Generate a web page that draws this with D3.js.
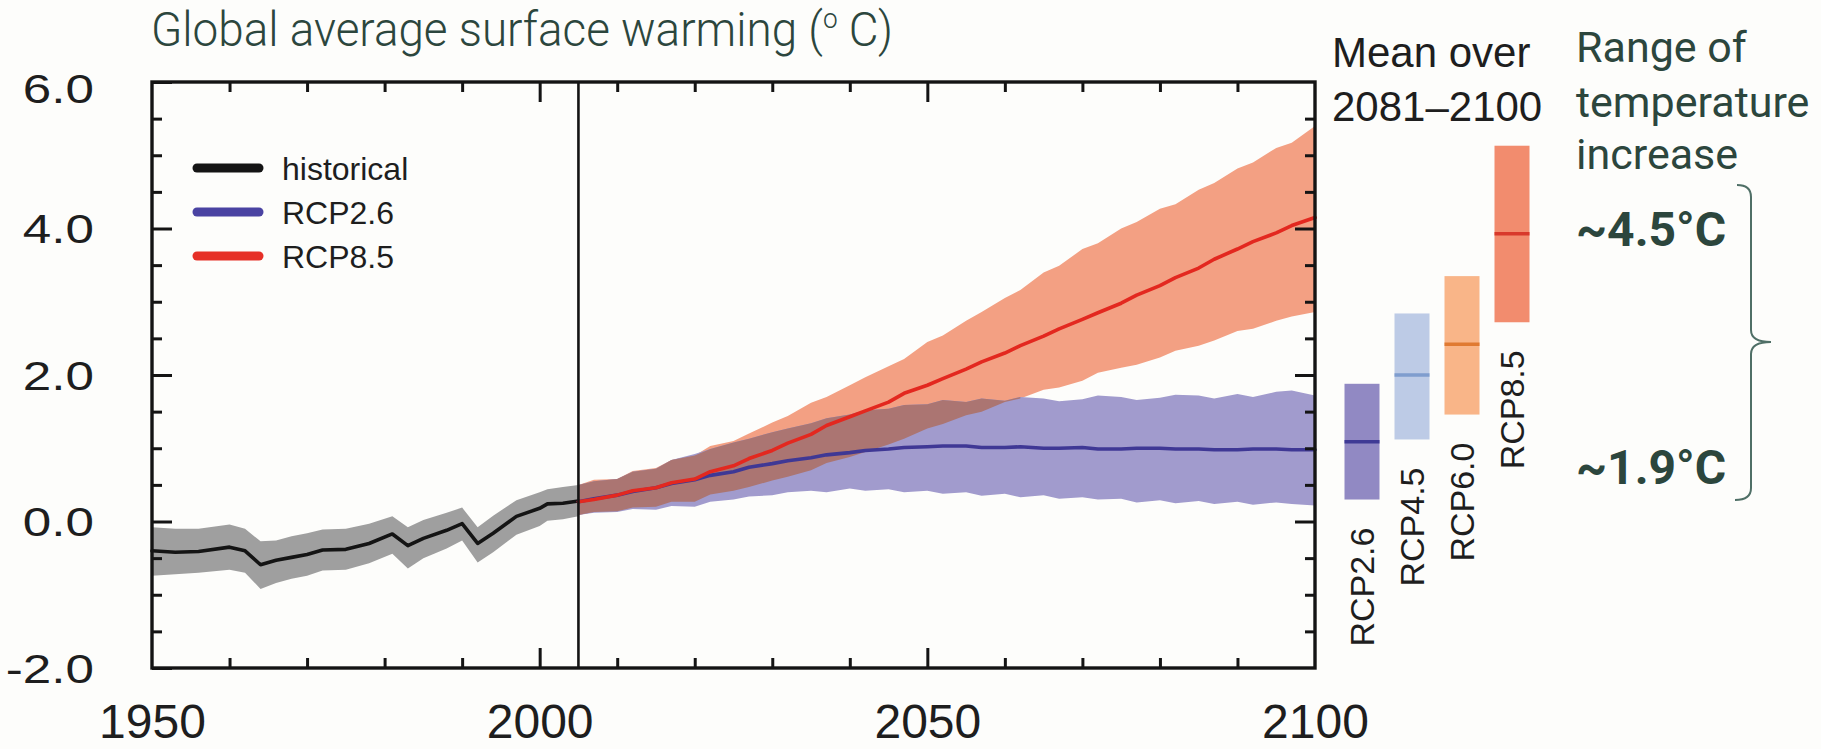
<!DOCTYPE html>
<html>
<head>
<meta charset="utf-8">
<script src="https://cdn.jsdelivr.net/npm/d3@7"></script>
<style>
  html, body { margin: 0; padding: 0; background: #fdfdfb; }
  svg { display: block; }
</style>
</head>
<body>
<script>
// ---------------- data ----------------
const histYears = [1950, 1953, 1956, 1960, 1962, 1964, 1966, 1968, 1970, 1972, 1975, 1978, 1981, 1983, 1985, 1988, 1990, 1992, 1994, 1997, 2000, 2001, 2003, 2005];
const histMean  = [-0.40, -0.42, -0.41, -0.35, -0.40, -0.59, -0.53, -0.49, -0.45, -0.39, -0.38, -0.30, -0.17, -0.33, -0.23, -0.12, -0.03, -0.30, -0.16, 0.07, 0.18, 0.24, 0.25, 0.28];
const histLow   = [-0.74, -0.72, -0.70, -0.66, -0.70, -0.92, -0.84, -0.78, -0.74, -0.67, -0.66, -0.57, -0.44, -0.64, -0.50, -0.37, -0.26, -0.56, -0.42, -0.18, -0.06, 0.01, 0.03, 0.07];
const histHigh  = [-0.08, -0.10, -0.10, -0.04, -0.10, -0.27, -0.26, -0.20, -0.16, -0.11, -0.10, -0.03, 0.07, -0.08, 0.02, 0.12, 0.19, -0.08, 0.08, 0.29, 0.40, 0.44, 0.47, 0.50];

const rcpYears  = [2005, 2007, 2010, 2012, 2015, 2017, 2020, 2022, 2025, 2027, 2030, 2032, 2035, 2037, 2040, 2042, 2045, 2047, 2050, 2052,
                   2055, 2057, 2060, 2062, 2065, 2067, 2070, 2072, 2075, 2077, 2080, 2082, 2085, 2087, 2090, 2092, 2095, 2097, 2100];
const rcp85Mean = [0.27, 0.30, 0.36, 0.42, 0.46, 0.53, 0.58, 0.68, 0.76, 0.86, 0.97, 1.07, 1.19, 1.31, 1.43, 1.51, 1.63, 1.75, 1.86, 1.95,
                   2.08, 2.18, 2.30, 2.40, 2.53, 2.63, 2.76, 2.85, 2.98, 3.09, 3.22, 3.33, 3.46, 3.58, 3.72, 3.82, 3.94, 4.04, 4.15];
const rcp85High = [0.50, 0.57, 0.58, 0.69, 0.73, 0.84, 0.90, 1.03, 1.10, 1.20, 1.35, 1.44, 1.62, 1.70, 1.86, 1.97, 2.12, 2.22, 2.45, 2.54,
                   2.74, 2.86, 3.05, 3.16, 3.40, 3.49, 3.72, 3.80, 4.00, 4.09, 4.27, 4.33, 4.53, 4.62, 4.82, 4.90, 5.10, 5.17, 5.40];
const rcp85Low  = [0.09, 0.13, 0.14, 0.19, 0.20, 0.27, 0.27, 0.37, 0.42, 0.47, 0.56, 0.61, 0.70, 0.80, 0.88, 0.95, 1.05, 1.13, 1.27, 1.33,
                   1.45, 1.50, 1.63, 1.68, 1.80, 1.83, 1.92, 2.03, 2.10, 2.14, 2.24, 2.33, 2.40, 2.47, 2.60, 2.63, 2.74, 2.80, 2.86];
const rcp26Mean = [0.27, 0.31, 0.36, 0.41, 0.46, 0.52, 0.57, 0.63, 0.68, 0.74, 0.79, 0.83, 0.87, 0.91, 0.94, 0.97, 0.99, 1.01, 1.02, 1.03,
                   1.03, 1.01, 1.01, 1.02, 1.00, 1.00, 1.01, 0.99, 0.99, 1.00, 1.00, 0.99, 0.99, 0.98, 0.98, 0.99, 0.99, 0.98, 0.98];
const rcp26High = [0.50, 0.55, 0.58, 0.68, 0.72, 0.84, 0.92, 0.99, 1.08, 1.13, 1.22, 1.27, 1.34, 1.41, 1.46, 1.52, 1.54, 1.59, 1.60, 1.66,
                   1.63, 1.68, 1.65, 1.70, 1.68, 1.64, 1.67, 1.72, 1.70, 1.66, 1.69, 1.73, 1.72, 1.68, 1.74, 1.70, 1.77, 1.79, 1.72];
const rcp26Low  = [0.09, 0.12, 0.13, 0.17, 0.16, 0.21, 0.20, 0.27, 0.30, 0.34, 0.36, 0.40, 0.42, 0.40, 0.45, 0.42, 0.44, 0.40, 0.42, 0.38,
                   0.40, 0.35, 0.38, 0.33, 0.36, 0.31, 0.33, 0.30, 0.31, 0.26, 0.29, 0.25, 0.28, 0.24, 0.27, 0.23, 0.26, 0.24, 0.22];

const barNames = ["RCP2.6", "RCP4.5", "RCP6.0", "RCP8.5"];
const barLow   = [0.30, 1.12, 1.46, 2.72];
const barMean  = [1.09, 2.00, 2.42, 3.93];
const barHigh  = [1.88, 2.84, 3.35, 5.13];

const yMajorTicks  = [-2, 0, 2, 4, 6];
const yTickLabels  = ["-2.0", "0.0", "2.0", "4.0", "6.0"];
const yMinorTicks  = [-1.5, -1, -0.5, 0.5, 1, 1.5, 2.5, 3, 3.5, 4.5, 5, 5.5];
const xMajorTicks  = [1950, 2000, 2050, 2100];
const xTickLabels  = ["1950", "2000", "2050", "2100"];
const xMinorTicks  = [1960, 1970, 1980, 1990, 2010, 2020, 2030, 2040, 2060, 2070, 2080, 2090];
const splitYear    = 2005;

const legendNames  = ["historical", "RCP2.6", "RCP8.5"];

// ---------------- styles ----------------
const C = {
  ink: "#141414",
  greyBand: "#9f9f9f",
  orangeBand: "#f3a083",
  purpleBand: "#a19bcd",
  overlap: "#ab7572",
  red: "#e3281f",
  blue: "#3f3895",
  note: "#2c463d"
};
const barFill = ["#9189c3", "#bdcbe6", "#f9b588", "#f28c6e"];
const barLine = ["#3f3a95", "#7f9dce", "#e07a32", "#d8392b"];
const legendColors = [C.ink, "#4a43a2", "#e63027"];
const helv = "'Liberation Sans', Arial, Helvetica, sans-serif";
const robo = "Roboto, 'Noto Sans', sans-serif";

// ---------------- layout ----------------
const W = 1821, H = 749;
const svg = d3.select("body").append("svg").attr("width", W).attr("height", H);

const x = d3.scaleLinear().domain([1950, 2100]).range([152, 1315]);
const y = d3.scaleLinear().domain([-2, 6]).range([668, 82]);

const hist = histYears.map((d, i) => ({yr: d, m: histMean[i], lo: histLow[i], hi: histHigh[i]}));
const rcp = rcpYears.map((d, i) => ({
  yr: d,
  m85: rcp85Mean[i], lo85: rcp85Low[i], hi85: rcp85High[i],
  m26: rcp26Mean[i], lo26: rcp26Low[i], hi26: rcp26High[i]
}));

const plot = svg.append("g");

// bands
plot.append("path").datum(hist)
  .attr("fill", C.greyBand)
  .attr("d", d3.area().x(d => x(d.yr)).y0(d => y(d.lo)).y1(d => y(d.hi)));

plot.append("path").datum(rcp)
  .attr("fill", C.orangeBand)
  .attr("d", d3.area().x(d => x(d.yr)).y0(d => y(d.lo85)).y1(d => y(d.hi85)));

plot.append("path").datum(rcp)
  .attr("fill", C.purpleBand)
  .attr("d", d3.area().x(d => x(d.yr)).y0(d => y(d.lo26)).y1(d => y(d.hi26)));

plot.append("path").datum(rcp)
  .attr("fill", C.overlap)
  .attr("d", d3.area()
    .defined(d => Math.max(d.lo26, d.lo85) < Math.min(d.hi26, d.hi85))
    .x(d => x(d.yr))
    .y0(d => y(Math.max(d.lo26, d.lo85)))
    .y1(d => y(Math.min(d.hi26, d.hi85))));

// mean lines
const lineStyle = (sel, col) => sel.attr("fill", "none").attr("stroke", col)
  .attr("stroke-width", 3.6).attr("stroke-linejoin", "round").attr("stroke-linecap", "round");

plot.append("path").datum(hist).call(lineStyle, C.ink)
  .attr("d", d3.line().x(d => x(d.yr)).y(d => y(d.m)));
plot.append("path").datum(rcp).call(lineStyle, C.blue)
  .attr("d", d3.line().x(d => x(d.yr)).y(d => y(d.m26)));
plot.append("path").datum(rcp).call(lineStyle, C.red)
  .attr("d", d3.line().x(d => x(d.yr)).y(d => y(d.m85)));

// 2005 split line
svg.append("line")
  .attr("x1", x(splitYear)).attr("x2", x(splitYear))
  .attr("y1", y(6)).attr("y2", y(-2))
  .attr("stroke", C.ink).attr("stroke-width", 2.6);

// ---------------- axes ----------------
function styleAxis(g) {
  g.select(".domain").remove();
  g.selectAll(".tick line").attr("stroke", C.ink).attr("stroke-width", 3);
}
const minorLen = -10, majorLen = -20;

// left
svg.append("g").attr("transform", `translate(${x(1950)},0)`)
  .call(d3.axisLeft(y).tickValues(yMinorTicks).tickSize(minorLen).tickFormat("")).call(styleAxis);
const leftMajor = svg.append("g").attr("transform", `translate(${x(1950)},0)`)
  .call(d3.axisLeft(y).tickValues(yMajorTicks).tickSize(majorLen)
    .tickFormat((d, i) => yTickLabels[i]))
  .call(styleAxis);
leftMajor.selectAll(".tick text")
  .attr("font-family", helv).attr("font-size", 40).attr("fill", "#1e1e1e")
  .attr("text-anchor", "end")
  .attr("x", -58 / 1.28)
  .attr("dy", d => d === 6 ? "0.52em" : "0.36em")
  .attr("transform", "scale(1.28,1)");

// right
svg.append("g").attr("transform", `translate(${x(2100)},0)`)
  .call(d3.axisRight(y).tickValues(yMinorTicks).tickSize(minorLen).tickFormat("")).call(styleAxis);
svg.append("g").attr("transform", `translate(${x(2100)},0)`)
  .call(d3.axisRight(y).tickValues(yMajorTicks.slice(1, -1)).tickSize(majorLen).tickFormat("")).call(styleAxis);

// top
svg.append("g").attr("transform", `translate(0,${y(6)})`)
  .call(d3.axisTop(x).tickValues(xMinorTicks).tickSize(minorLen).tickFormat("")).call(styleAxis);
svg.append("g").attr("transform", `translate(0,${y(6)})`)
  .call(d3.axisTop(x).tickValues(xMajorTicks.slice(1, -1)).tickSize(majorLen).tickFormat("")).call(styleAxis);

// bottom
svg.append("g").attr("transform", `translate(0,${y(-2)})`)
  .call(d3.axisBottom(x).tickValues(xMinorTicks).tickSize(minorLen).tickFormat("")).call(styleAxis);
const bottomMajor = svg.append("g").attr("transform", `translate(0,${y(-2)})`)
  .call(d3.axisBottom(x).tickValues(xMajorTicks).tickSize(majorLen)
    .tickFormat((d, i) => xTickLabels[i]))
  .call(styleAxis);
bottomMajor.selectAll(".tick line").filter(d => d === 1950 || d === 2100).remove();
bottomMajor.selectAll(".tick text")
  .attr("font-family", helv).attr("font-size", 48).attr("fill", "#1e1e1e")
  .attr("y", 70).attr("dy", 0)
  .attr("x", 0);

// frame
svg.append("rect")
  .attr("x", x(1950)).attr("y", y(6))
  .attr("width", x(2100) - x(1950)).attr("height", y(-2) - y(6))
  .attr("fill", "none").attr("stroke", C.ink).attr("stroke-width", 3.4);

// ---------------- legend ----------------
const lg = svg.append("g");
legendNames.forEach((name, i) => {
  const by = 180 + i * 44;
  lg.append("line").attr("x1", 197).attr("x2", 259)
    .attr("y1", by - 12).attr("y2", by - 12)
    .attr("stroke", legendColors[i]).attr("stroke-width", 9).attr("stroke-linecap", "round");
  lg.append("text").attr("x", 282).attr("y", by)
    .attr("font-family", helv).attr("font-size", 32).attr("fill", "#1e1e1e")
    .text(name);
});

// ---------------- 2081-2100 bars ----------------
const bx = d3.scaleBand().domain(barNames).range([1337, 1537]).paddingInner(0.3).paddingOuter(0.15);
const bars = svg.append("g");
barNames.forEach((n, i) => {
  bars.append("rect")
    .attr("x", bx(n)).attr("width", bx.bandwidth())
    .attr("y", y(barHigh[i])).attr("height", y(barLow[i]) - y(barHigh[i]))
    .attr("fill", barFill[i]);
  bars.append("line")
    .attr("x1", bx(n)).attr("x2", bx(n) + bx.bandwidth())
    .attr("y1", y(barMean[i])).attr("y2", y(barMean[i]))
    .attr("stroke", barLine[i]).attr("stroke-width", 3.5);
  const tx = bx(n) + bx.bandwidth() / 2 + 12;
  const ty = y(barLow[i]) + 28;
  bars.append("text")
    .attr("transform", `translate(${tx},${ty}) rotate(-90)`)
    .attr("text-anchor", "end")
    .attr("font-family", helv).attr("font-size", 34).attr("fill", "#1e1e1e")
    .text(n);
});

svg.append("text").attr("x", 1332).attr("y", 67)
  .attr("font-family", helv).attr("font-size", 42).attr("fill", "#1e1e1e")
  .text("Mean over");
svg.append("text").attr("x", 1332).attr("y", 121)
  .attr("font-family", helv).attr("font-size", 42).attr("fill", "#1e1e1e")
  .text("2081\u20132100");

// ---------------- annotations ----------------
const title = svg.append("text").attr("x", 151 / 0.935).attr("y", 46)
  .attr("transform", "scale(0.935,1)")
  .attr("font-family", robo).attr("font-weight", 300).attr("font-size", 49).attr("fill", C.note);
title.append("tspan").text("Global average surface warming (");
title.append("tspan").attr("font-size", 28).attr("dy", -18).text("o");
title.append("tspan").attr("dy", 18).text(" C)");

["Range of", "temperature", "increase"].forEach((t, i) => {
  svg.append("text").attr("x", 1576).attr("y", [62, 117, 169][i])
    .attr("font-family", robo).attr("font-size", 43).attr("fill", C.note)
    .text(t);
});

svg.append("text").attr("x", 1576).attr("y", 246)
  .attr("font-family", robo).attr("font-weight", 700).attr("font-size", 48).attr("fill", C.note)
  .text("~4.5\u00b0C");
svg.append("text").attr("x", 1576).attr("y", 484)
  .attr("font-family", robo).attr("font-weight", 700).attr("font-size", 48).attr("fill", C.note)
  .text("~1.9\u00b0C");

svg.append("path")
  .attr("d", "M1737,185 Q1751,185 1751,197 L1751,330 Q1751,342 1771,342 Q1751,342 1751,354 L1751,488 Q1751,500 1735,500")
  .attr("fill", "none").attr("stroke", "#4f6f66").attr("stroke-width", 2);
</script>
</body>
</html>
